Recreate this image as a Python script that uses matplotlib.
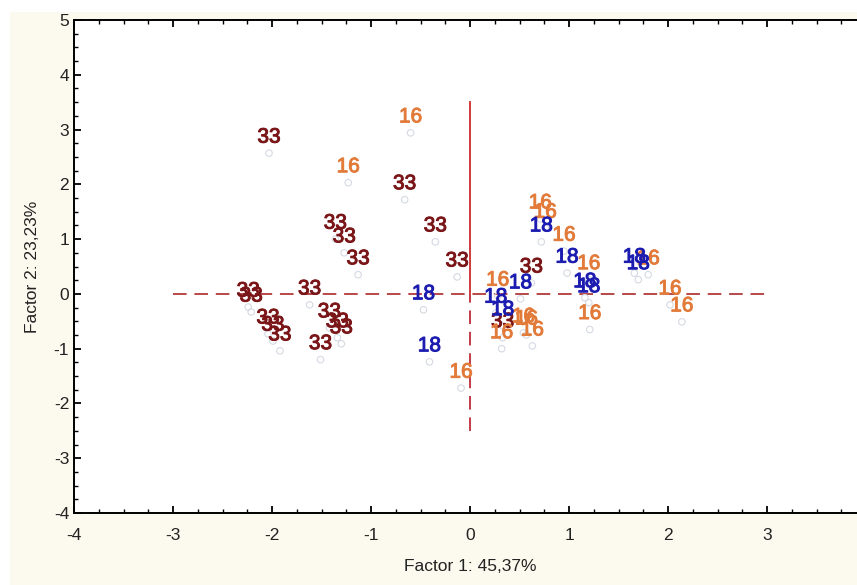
import matplotlib.pyplot as plt
import matplotlib.patheffects as pe
from matplotlib.patches import Rectangle
from matplotlib.ticker import MultipleLocator

plt.rcParams['font.family'] = ['Liberation Sans', 'DejaVu Sans']
plt.rcParams['axes.unicode_minus'] = False

# Factor scores, one group per label
x_33 = [-2.03, -0.66, -0.35, -0.13, -1.36, -1.27, -1.13, -2.24, -2.21, -1.62,
        -2.04, -1.99, -1.92, -1.42, -1.34, -1.30, -1.51, 0.62, 0.33]
y_33 = [2.57, 1.72, 0.95, 0.31, 1.00, 0.75, 0.35, -0.24, -0.33, -0.20,
        -0.73, -0.86, -1.04, -0.62, -0.80, -0.91, -1.20, 0.20, -0.80]

x_16 = [-0.60, -1.23, -0.09, 0.71, 0.76, 0.95, 1.20, 1.21, 1.80, 2.02,
        2.14, 0.28, 0.54, 0.57, 0.32, 0.63]
y_16 = [2.94, 2.03, -1.72, 1.37, 1.20, 0.78, 0.26, -0.65, 0.35, -0.20,
        -0.51, -0.04, -0.71, -0.75, -1.00, -0.95]

x_18 = [-0.47, -0.41, 0.72, 0.98, 1.16, 1.20, 1.66, 1.70, 0.51, 0.26, 0.33]
y_18 = [-0.29, -1.24, 0.95, 0.38, -0.07, -0.16, 0.38, 0.26, -0.09, -0.35, -0.58]

groups = [('33', x_33, y_33, '#7a1518'),
          ('16', x_16, y_16, '#e27b3a'),
          ('18', x_18, y_18, '#1c1cb0')]

x_label = 'Factor 1: 45,37%'
y_label = 'Factor 2: 23,23%'

fig = plt.figure(figsize=(8.57, 5.85), dpi=100, facecolor='white')
# cream frame behind the plot
fig.patches.append(Rectangle((10 / 857, 0), 1, (585 - 12) / 585,
                             transform=fig.transFigure, facecolor='#fcfaee',
                             edgecolor='none', zorder=-1))

# the axes run past the right edge, as in the cropped original
ax = fig.add_axes([74 / 857, 72 / 585, 792 / 857, 493 / 585])
ax.set_facecolor('white')
ax.set_xlim(-4, 4)
ax.set_ylim(-4, 5)

# centre lines
ax.plot([-3, 3], [0, 0], color='#b84848', lw=1.4, dashes=(7, 4), zorder=1)
ax.plot([0, 0], [0, 3.5], color='#d03a3a', lw=1.4, zorder=1)
ax.plot([0, 0], [-2.5, 0], color='#c23c48', lw=1.4, dashes=(7, 4), zorder=1)

for label, xs, ys, color in groups:
    ax.scatter(xs, ys, s=22, facecolors='none', edgecolors='#d5d9e3',
               linewidths=0.8, zorder=2)
    for xv, yv in zip(xs, ys):
        ax.annotate(label, (xv, yv), xytext=(0, 11.5), textcoords='offset points',
                    ha='center', va='center', fontsize=15, color=color, zorder=3,
                    path_effects=[pe.withStroke(linewidth=0.7, foreground=color)])

ax.xaxis.set_major_locator(MultipleLocator(1))
ax.xaxis.set_minor_locator(MultipleLocator(0.25))
ax.yaxis.set_major_locator(MultipleLocator(1))
ax.yaxis.set_minor_locator(MultipleLocator(0.25))
ax.tick_params(which='both', direction='in', top=True, right=True,
               color='black', labelsize=12.5, labelcolor='#222222')
ax.tick_params(which='major', length=5, width=1.3)
ax.tick_params(which='minor', length=3, width=1.0)
ax.tick_params(axis='x', pad=11)
for s in ax.spines.values():
    s.set_linewidth(1.4)

ax.set_xlabel(x_label, fontsize=12.5, labelpad=11, color='#222222')
ax.set_ylabel(y_label, fontsize=12.5, labelpad=10, color='#222222')

plt.savefig('out.png', dpi=100, facecolor=fig.get_facecolor())
